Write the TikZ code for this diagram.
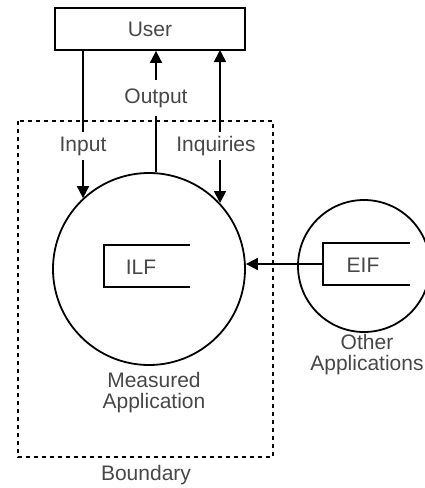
\documentclass[tikz,border=0pt]{standalone}
\usepackage{fontspec}
\setmainfont{Liberation Sans}
\usetikzlibrary{arrows.meta}
\begin{document}
\begin{tikzpicture}[x=1pt,y=-1pt,
  line width=1.8pt,
  lbl/.style={font=\fontsize{21}{21}\selectfont, text=black!72, inner sep=0pt, align=center},
  gaplbl/.style={lbl, fill=white, inner ysep=4pt, inner xsep=2pt},
  tip/.style={-{Triangle[length=12pt,width=12pt]}},
  dtip/.style={{Triangle[length=12pt,width=12pt]}-{Triangle[length=12pt,width=12pt]}},
  bound/.style={dash pattern=on 4pt off 4pt, line width=2pt}]
\useasboundingbox (0,0) rectangle (425,488);
% boundary
\draw[bound] (18,121) rectangle (273,457);
\node[lbl] (bnd) at (146,475) {Boundary};
% user
\node[draw, minimum width=190pt, minimum height=42pt, inner sep=0pt, lbl] (user) at (150,29) {User};
% measured application
\node[draw, circle, minimum size=192pt, inner sep=0pt] (mc) at (149,269) {};
\node[lbl] (mclbl) at (154,393) {Measured\\Application};
% ILF
\coordinate (ilfA) at (190,245); \coordinate (ilfB) at (104,245);
\coordinate (ilfC) at (104,287); \coordinate (ilfD) at (190,287);
\draw (ilfA) -- (ilfB) -- (ilfC) -- (ilfD);
\node[lbl] (ilf) at (141,267) {ILF};
% other application
\node[draw, circle, minimum size=132pt, inner sep=0pt] (oc) at (364,266) {};
\node[lbl] (oclbl) at (367,355) {Other\\Applications};
\coordinate (eifA) at (410,243); \coordinate (eifB) at (323,243);
\coordinate (eifC) at (323,285); \coordinate (eifD) at (410,285);
\draw (eifA) -- (eifB) -- (eifC) -- (eifD);
\node[lbl] (eif) at (363,265) {EIF};
\coordinate (eifL) at (323,264);
\draw[tip] (eifL) -- (mc.east |- eifL);
% input
\node[gaplbl] (inl) at (83,146) {Input};
\draw (inl.north |- user.south) -- (inl.north);
\draw[tip] (inl.south) -- (inl.south |- mc.133.4);
% output
\node[gaplbl, inner ysep=8pt] (outl) at (156,98) {Output};
\draw[tip] (outl.north) -- (outl.north |- user.south);
\draw (outl.south |- mc.north) -- (outl.south);
% inquiries
\coordinate (inqT) at (220,50);
\coordinate (inqB) at (220,203);
\draw[dtip] (inqT) -- (inqB);
\node[gaplbl] (inq) at (216,146) {Inquiries};
\end{tikzpicture}
\end{document}
